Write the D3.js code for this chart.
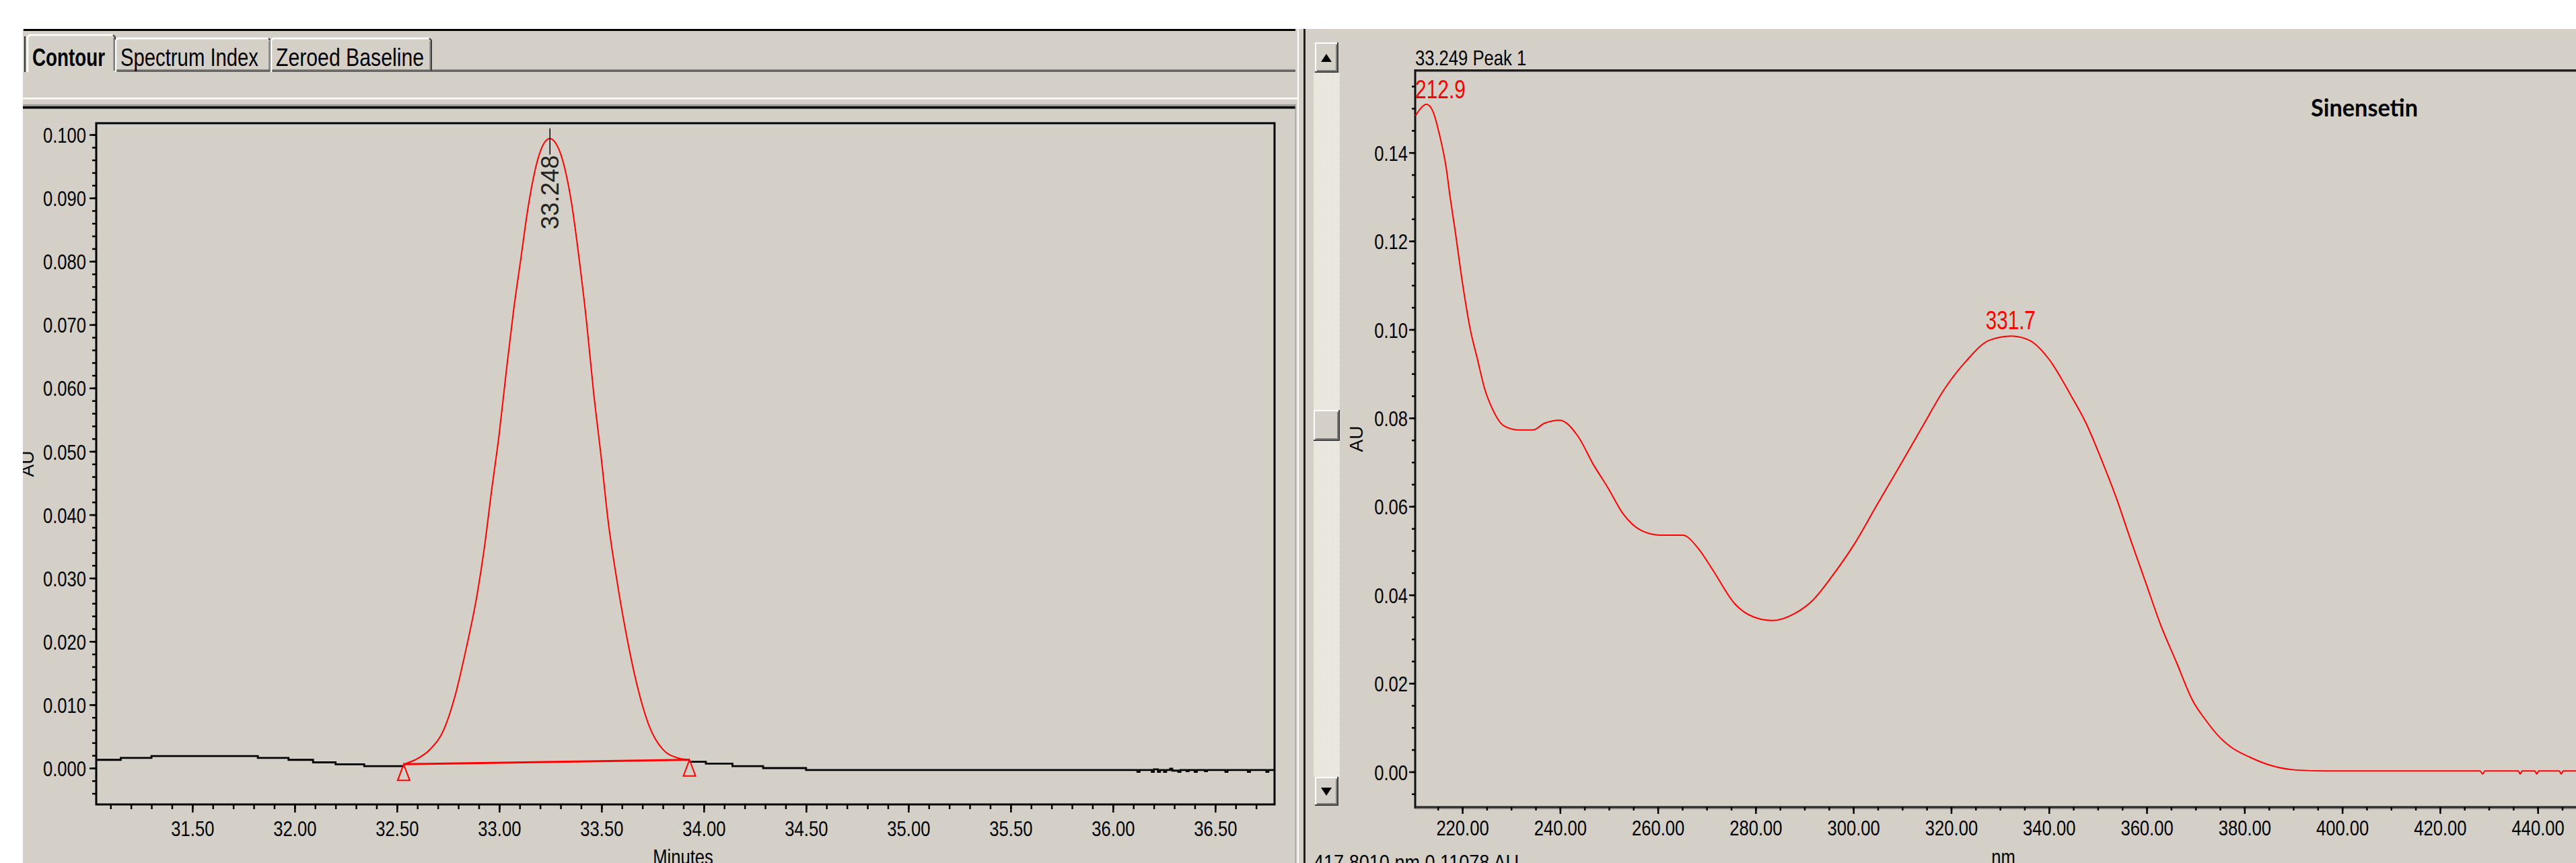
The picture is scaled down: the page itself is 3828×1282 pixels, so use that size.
<!DOCTYPE html>
<html lang="en">
<head>
<meta charset="UTF-8" />
<title>Sinensetin peak - chromatogram and UV spectrum</title>
<script src="https://d3js.org/d3.v7.min.js"></script>
<style>
  body { margin: 0; background: #ffffff; }
  svg { display: block; }
  text { font-family: "Liberation Sans", Arial, sans-serif; }
</style>
</head>
<body>
<div id="chart"></div>
<script>
// ---- chromatogram (left), minutes / AU ----
const traceBeforeTime = [31.03, 31.15, 31.30, 31.82, 31.97, 32.09, 32.20, 32.34, 32.533];
const traceBeforeAU   = [0.0013, 0.0016, 0.0019, 0.0016, 0.0013, 0.0009, 0.0006, 0.0003, 0.0003];

const traceAfterTime = [33.93, 34.01, 34.14, 34.29, 34.50, 36.12, 36.13, 36.19, 36.20, 36.22, 36.23,
  36.25, 36.26, 36.28, 36.29, 36.32, 36.33, 36.36, 36.37, 36.40, 36.41, 36.45, 36.46,
  36.55, 36.56, 36.66, 36.67, 36.75, 36.76, 36.79];
const traceAfterAU = [0.0010, 0.0007, 0.0003, 0.0000, -0.0003, -0.0006, -0.0003, -0.0006, -0.0002, -0.0006, -0.0003,
  -0.0006, -0.0003, -0.0001, -0.0004, -0.0006, -0.0003, -0.0005, -0.0003, -0.0006, -0.0003, -0.0005, -0.0003,
  -0.0006, -0.0003, -0.0006, -0.0003, -0.0006, -0.0003, -0.0003];

const peakTime = [32.533, 32.589, 32.66, 32.731, 32.785, 32.838, 32.892, 32.927, 32.963, 32.999,
  33.034, 33.07, 33.106, 33.141, 33.195, 33.22, 33.248, 33.275, 33.302, 33.355, 33.391, 33.427,
  33.462, 33.498, 33.534, 33.57, 33.623, 33.676, 33.73, 33.801, 33.873, 33.93];
const peakAU = [0.0006, 0.0013, 0.0029, 0.0062, 0.0115, 0.0188, 0.0274, 0.0347, 0.0439, 0.0525,
  0.0625, 0.0722, 0.0805, 0.0885, 0.0968, 0.0987, 0.0994, 0.0987, 0.0968, 0.0889, 0.0803, 0.0704,
  0.0591, 0.0492, 0.0386, 0.0307, 0.0208, 0.0128, 0.0069, 0.0029, 0.0016, 0.0013];

const dropTime = [32.533, 33.93];
const dropAU = [0.0006, 0.0013];

const peakLabel = "33.248";
const peakLabelTime = 33.248;
const peakLabelAU = 0.0994;

const minuteTicks = [31.5, 32.0, 32.5, 33.0, 33.5, 34.0, 34.5, 35.0, 35.5, 36.0, 36.5];
const auTicksLeft = [0.000, 0.010, 0.020, 0.030, 0.040, 0.050, 0.060, 0.070, 0.080, 0.090, 0.100];

// ---- UV spectrum (right), nm / AU ----
const specNm = [210.4, 212.7, 214.0, 215.3, 216.7, 217.5, 218.5, 220.0, 221.6, 223.1, 224.6, 226.1,
  228.4, 231.5, 234.5, 236.8, 239.9, 243.7, 246.8, 249.8, 252.9, 256.7, 260.5, 265.1, 268.2,
  271.2, 275.8, 279.6, 283.4, 288.0, 291.8, 295.7, 300.2, 304.8, 309.4, 314.0, 318.6, 323.1,
  327.7, 332.3, 336.1, 340.0, 344.5, 347.6, 350.6, 353.7, 356.7, 359.8, 362.9, 366.0, 369.5,
  372.0, 374.6, 377.1, 381.3, 385.5, 390.6, 396.5, 410.0, 428.2, 428.7, 429.2, 436.0, 436.4,
  436.8, 439.4, 439.8, 440.2, 444.4, 444.8, 445.2, 451.4];
const specAU = [0.1483, 0.1509, 0.1493, 0.1442, 0.1366, 0.1300, 0.1226, 0.1108, 0.1002, 0.0933, 0.0865, 0.0822,
  0.0783, 0.0773, 0.0773, 0.0788, 0.0795, 0.0758, 0.0695, 0.0642, 0.0583, 0.0545, 0.0535, 0.0535, 0.0506,
  0.0457, 0.0379, 0.0350, 0.0342, 0.0358, 0.0389, 0.0443, 0.0515, 0.0603, 0.0690, 0.0778, 0.0865, 0.0929,
  0.0975, 0.0985, 0.0975, 0.0933, 0.0851, 0.0788, 0.0710, 0.0622, 0.0525, 0.0428, 0.0331, 0.0250, 0.0159,
  0.0118, 0.0082, 0.0057, 0.0032, 0.0014, 0.0004, 0.0002, 0.0002, 0.0002, -0.0005, 0.0002, 0.0002, -0.0005,
  0.0002, 0.0002, -0.0005, 0.0002, 0.0002, -0.0005, 0.0002, 0.0002];

const maxima = [{ nm: 212.9, au: 0.1509, text: "212.9" }, { nm: 332.3, au: 0.0985, text: "331.7" }];

const nmTicks = [220, 240, 260, 280, 300, 320, 340, 360, 380, 400, 420, 440];
const auTicksRight = [0.00, 0.02, 0.04, 0.06, 0.08, 0.10, 0.12, 0.14];

const W = 3828, H = 1282;
const gray = "#d4d0c8";

const svg = d3.select("#chart").append("svg").attr("width", W).attr("height", H);

// squeeze text horizontally (the screenshot is stretched vertically)
function squeeze(sel, k) {
  sel.each(function () {
    const len = this.getComputedTextLength();
    d3.select(this).attr("textLength", len * k).attr("lengthAdjust", "spacingAndGlyphs");
  });
}

function raised(x, y, w, h) {
  const g = svg.append("g").attr("fill", "none");
  g.append("rect").attr("x", x).attr("y", y).attr("width", w).attr("height", h).attr("fill", gray);
  g.append("path").attr("d", `M${x + 1},${y + h - 1}V${y + 1}H${x + w - 1}`).attr("stroke", "#fff").attr("stroke-width", 2);
  g.append("path").attr("d", `M${x + 3},${y + h - 3}H${x + w - 3}V${y + 3}`).attr("stroke", "#808080").attr("stroke-width", 2);
  g.append("path").attr("d", `M${x},${y + h - 1}H${x + w - 1}V${y}`).attr("stroke", "#404040").attr("stroke-width", 2);
  return g;
}

// ---- window chrome ----
svg.append("rect").attr("x", 34).attr("y", 43).attr("width", W - 34).attr("height", H - 43).attr("fill", gray);
svg.append("rect").attr("x", 35).attr("y", 43).attr("width", 1890).attr("height", 3).attr("fill", "#000");

// tabs
const tabs = [
  { name: "Contour", x0: 41, x1: 171, top: 52, bold: true, len: 108 },
  { name: "Spectrum Index", x0: 172, x1: 402, top: 57, bold: false, len: 205 },
  { name: "Zeroed Baseline", x0: 403, x1: 641, top: 57, bold: false, len: 220 }
];
svg.append("rect").attr("x", 171).attr("y", 103).attr("width", 1754).attr("height", 2).attr("fill", "#808080");
svg.append("rect").attr("x", 171).attr("y", 105).attr("width", 1754).attr("height", 1.5).attr("fill", "#404040");
svg.append("path").attr("d", "M37,107V54").attr("stroke", "#303030").attr("stroke-width", 2).attr("fill", "none");
tabs.forEach(t => {
  const g = svg.append("g").attr("fill", "none");
  g.append("path").attr("d", `M${t.x0},107V${t.top + 3}L${t.x0 + 3},${t.top}H${t.x1 - 3}`)
    .attr("stroke", "#fff").attr("stroke-width", 2.5);
  g.append("path").attr("d", `M${t.x1 - 3},${t.top}L${t.x1},${t.top + 3}V105`)
    .attr("stroke", "#404040").attr("stroke-width", 2);
  g.append("path").attr("d", `M${t.x1 - 2},${t.top + 4}V105`).attr("stroke", "#808080").attr("stroke-width", 1.5);
  g.append("text").attr("x", t.x0 + 7).attr("y", 98).attr("font-size", 36).attr("fill", "#000")
    .attr("font-weight", t.bold ? "bold" : "normal")
    .attr("textLength", t.len).attr("lengthAdjust", "spacingAndGlyphs").text(t.name);
});

// splitter between tab strip and chart panel
svg.append("rect").attr("x", 34).attr("y", 145).attr("width", 1895).attr("height", 2.5).attr("fill", "#fff");
svg.append("rect").attr("x", 34).attr("y", 155).attr("width", 1891).attr("height", 3).attr("fill", "#9a9a9a");
svg.append("rect").attr("x", 34).attr("y", 158).attr("width", 1891).attr("height", 3.5).attr("fill", "#000");
svg.append("rect").attr("x", 1924.5).attr("y", 155).attr("width", 1.2).attr("height", H - 155).attr("fill", "#9a9a9a");
svg.append("rect").attr("x", 1928).attr("y", 43).attr("width", 2).attr("height", H - 43).attr("fill", "#fff");
svg.append("rect").attr("x", 1937).attr("y", 43).attr("width", 3).attr("height", H - 43).attr("fill", "#202020");

// scrollbar
const defs = svg.append("defs");
const pat = defs.append("pattern").attr("id", "dots").attr("width", 2).attr("height", 2)
  .attr("patternUnits", "userSpaceOnUse");
pat.append("rect").attr("width", 2).attr("height", 2).attr("fill", "#ffffff");
pat.append("rect").attr("width", 1).attr("height", 1).attr("fill", gray);
pat.append("rect").attr("x", 1).attr("y", 1).attr("width", 1).attr("height", 1).attr("fill", gray);
svg.append("rect").attr("x", 1952).attr("y", 108).attr("width", 39).attr("height", 1046).attr("fill", "url(#dots)");
raised(1954, 63, 35, 45);
svg.append("path").attr("d", "M1971,80L1979,92H1963Z").attr("fill", "#000");
raised(1952, 609, 39, 46);
raised(1954, 1154, 35, 43);
svg.append("path").attr("d", "M1971,1182L1979,1170H1963Z").attr("fill", "#000");

// ---- left chart: chromatogram ----
const xL = d3.scaleLinear().domain([31.03, 36.79]).range([143, 1894]);
const yL = d3.scaleLinear().domain([-0.00574, 0.10181]).range([1195, 183]);

svg.append("rect").attr("x", 143).attr("y", 183).attr("width", 1751).attr("height", 1012)
  .attr("fill", "none").attr("stroke", "#000").attr("stroke-width", 3);

const traceLine = d3.line().x(d => xL(d[0])).y(d => yL(d[1])).curve(d3.curveStepAfter);
svg.append("path").datum(d3.zip(traceBeforeTime, traceBeforeAU)).attr("d", traceLine)
  .attr("fill", "none").attr("stroke", "#000").attr("stroke-width", 2.8);
svg.append("path").datum(d3.zip(traceAfterTime, traceAfterAU)).attr("d", traceLine)
  .attr("fill", "none").attr("stroke", "#000").attr("stroke-width", 2.8);

svg.append("path").datum(d3.zip(peakTime, peakAU))
  .attr("d", d3.line().x(d => xL(d[0])).y(d => yL(d[1])).curve(d3.curveMonotoneX))
  .attr("fill", "none").attr("stroke", "#ff0000").attr("stroke-width", 2);

svg.append("path").datum(d3.zip(dropTime, dropAU))
  .attr("d", d3.line().x(d => xL(d[0])).y(d => yL(d[1])))
  .attr("fill", "none").attr("stroke", "#ff0000").attr("stroke-width", 3);

// integration markers
svg.selectAll(".mark").data(d3.zip(dropTime, dropAU)).join("path")
  .attr("d", d => `M${xL(d[0])},${yL(d[1])}l-9,24h18z`)
  .attr("fill", "none").attr("stroke", "#ff0000").attr("stroke-width", 2);

// retention time label
const px = xL(peakLabelTime), py = yL(peakLabelAU);
svg.append("line").attr("x1", px).attr("x2", px).attr("y1", py - 15).attr("y2", py + 24)
  .attr("stroke", "#000").attr("stroke-width", 1.5);
svg.append("text").attr("transform", `translate(${px + 13},${py + 25}) rotate(-90)`)
  .attr("text-anchor", "end").attr("font-size", 36).attr("fill", "#222").text(peakLabel);

// axes
function styleAxis(g, size) {
  g.select(".domain").remove();
  g.attr("font-family", null).attr("font-size", size);
  g.selectAll("line").attr("stroke", "#000").attr("stroke-width", 2.5);
  g.selectAll("text").attr("fill", "#000");
}

const minuteMinor = d3.range(311, 368).map(d => d / 10);
svg.append("g").attr("transform", "translate(0,1195)")
  .call(d3.axisBottom(xL).tickValues(minuteMinor).tickSize(7).tickFormat(""))
  .call(g => styleAxis(g, 32));
const axBL = svg.append("g").attr("transform", "translate(0,1195)")
  .call(d3.axisBottom(xL).tickValues(minuteTicks).tickSize(12).tickFormat(d3.format(".2f")))
  .call(g => styleAxis(g, 32));
axBL.selectAll("text").attr("y", 47).attr("dy", null);

const auMinorLeft = d3.range(-2, 51).map(d => d * 0.002);
svg.append("g").attr("transform", "translate(143,0)")
  .call(d3.axisLeft(yL).tickValues(auMinorLeft).tickSize(6).tickFormat(""))
  .call(g => styleAxis(g, 32));
const axLL = svg.append("g").attr("transform", "translate(143,0)")
  .call(d3.axisLeft(yL).tickValues(auTicksLeft).tickSize(10).tickFormat(d3.format(".3f")))
  .call(g => styleAxis(g, 32));
axLL.selectAll("text").attr("x", -15).attr("dy", "0.36em");

squeeze(axBL.selectAll("text"), 0.8);
squeeze(axLL.selectAll("text"), 0.8);

const minutesLabel = svg.append("text").attr("x", 1015).attr("y", 1284).attr("text-anchor", "middle")
  .attr("font-size", 32).attr("fill", "#000").text("Minutes");
squeeze(minutesLabel, 0.8);
svg.append("text").attr("transform", "translate(50,689) rotate(-90)").attr("text-anchor", "middle")
  .attr("font-size", 28).attr("fill", "#000").text("AU");

// ---- right chart: UV spectrum ----
const xR = d3.scaleLinear().domain([210.36, 451.4]).range([2103, 3854]);
const yR = d3.scaleLinear().domain([-0.00799, 0.15852]).range([1199, 105]);

const title = svg.append("text").attr("x", 2103).attr("y", 97).attr("font-size", 32).attr("fill", "#000")
  .text("33.249 Peak 1");
squeeze(title, 0.8);

svg.append("rect").attr("x", 2103).attr("y", 103).attr("width", W - 2103).attr("height", 3.5).attr("fill", "#202020");
svg.append("rect").attr("x", 2101.5).attr("y", 103).attr("width", 3).attr("height", 1098).attr("fill", "#101010");
svg.append("rect").attr("x", 2103).attr("y", 1197.5).attr("width", W - 2103).attr("height", 3).attr("fill", "#202020");
svg.append("rect").attr("x", 2103).attr("y", 1200.5).attr("width", W - 2103).attr("height", 1.5).attr("fill", "#808080");

svg.append("path").datum(d3.zip(specNm, specAU))
  .attr("d", d3.line().x(d => xR(d[0])).y(d => yR(d[1])).curve(d3.curveMonotoneX))
  .attr("fill", "none").attr("stroke", "#ff0000").attr("stroke-width", 2);

svg.append("text").attr("x", 2103).attr("y", 146).attr("font-size", 39).attr("fill", "#ff0000")
  .attr("textLength", 75).attr("lengthAdjust", "spacingAndGlyphs").text(maxima[0].text);
svg.append("text").attr("x", xR(maxima[1].nm) - 1).attr("y", yR(maxima[1].au) - 10)
  .attr("text-anchor", "middle").attr("font-size", 39).attr("fill", "#ff0000")
  .attr("textLength", 74).attr("lengthAdjust", "spacingAndGlyphs").text(maxima[1].text);

svg.append("text").attr("x", 3434).attr("y", 173).attr("font-size", 37).attr("font-weight", "bold")
  .attr("fill", "#000").style("font-family", "Lato, 'Open Sans', sans-serif")
  .attr("textLength", 159).attr("lengthAdjust", "spacingAndGlyphs").text("Sinensetin");

const nmMinor = d3.range(43, 91).map(d => d * 5);
svg.append("g").attr("transform", "translate(0,1199)")
  .call(d3.axisBottom(xR).tickValues(nmMinor).tickSize(5).tickFormat(""))
  .call(g => styleAxis(g, 32));
const axBR = svg.append("g").attr("transform", "translate(0,1199)")
  .call(d3.axisBottom(xR).tickValues(nmTicks).tickSize(10).tickFormat(d3.format(".2f")))
  .call(g => styleAxis(g, 32));
axBR.selectAll("text").attr("y", 42).attr("dy", null);

const auMinorRight = d3.range(-1, 32).map(d => d * 0.005);
svg.append("g").attr("transform", "translate(2103,0)")
  .call(d3.axisLeft(yR).tickValues(auMinorRight).tickSize(5).tickFormat(""))
  .call(g => styleAxis(g, 32));
const axLR = svg.append("g").attr("transform", "translate(2103,0)")
  .call(d3.axisLeft(yR).tickValues(auTicksRight).tickSize(9).tickFormat(d3.format(".2f")))
  .call(g => styleAxis(g, 32));
axLR.selectAll("text").attr("x", -11).attr("dy", "0.36em");

squeeze(axBR.selectAll("text"), 0.8);
squeeze(axLR.selectAll("text"), 0.8);

const nmLabel = svg.append("text").attr("x", 2977).attr("y", 1284).attr("text-anchor", "middle")
  .attr("font-size", 32).attr("fill", "#000").text("nm");
squeeze(nmLabel, 0.8);
svg.append("text").attr("transform", "translate(2025,652) rotate(-90)").attr("text-anchor", "middle")
  .attr("font-size", 28).attr("fill", "#000").text("AU");
svg.append("text").attr("x", 1952).attr("y", 1292).attr("font-size", 32).attr("fill", "#000")
  .attr("textLength", 305).attr("lengthAdjust", "spacingAndGlyphs").text("417.8010 nm  0.11078 AU");

// white margin on the far left clips the panel
svg.append("rect").attr("x", 0).attr("y", 0).attr("width", 34).attr("height", H).attr("fill", "#fff");
</script>
</body>
</html>
